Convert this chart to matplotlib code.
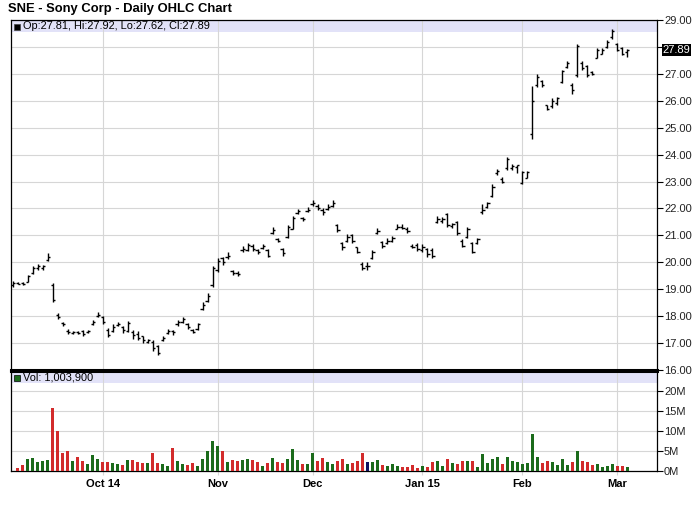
import numpy as np
import pandas as pd
import matplotlib
matplotlib.use('Agg')
import matplotlib.pyplot as plt
from matplotlib.patches import Rectangle
from matplotlib.transforms import blended_transform_factory

plt.rcParams['font.family'] = ['Liberation Sans', 'DejaVu Sans']

title = 'SNE - Sony Corp - Daily OHLC Chart'
holidays = ['2014-11-27', '2014-12-25', '2015-01-01', '2015-01-19', '2015-02-16']
dates = pd.bdate_range('2014-09-05', '2015-03-04')
dates = dates[~dates.isin(pd.to_datetime(holidays))]

# daily prices, Sep 5 2014 .. Mar 4 2015
op = [19.15, 19.24, 19.22, 19.27, 19.60, 19.80, 19.78, 20.10, 19.15, 18.05,
      17.76, 17.45, 17.38, 17.40, 17.45, 17.40, 17.70, 18.00, 17.95, 17.50,
      17.45, 17.68, 17.60, 17.45, 17.40, 17.35, 17.25, 17.05, 17.05, 16.90,
      17.12, 17.38, 17.45, 17.70, 17.80, 17.70, 17.50, 17.52, 18.25, 18.55,
      19.15, 19.70, 20.15, 20.20, 19.68, 19.62, 20.45, 20.45, 20.60, 20.45,
      20.52, 20.45, 21.10, 20.85, 20.50, 20.95, 21.25, 21.82, 21.65, 21.90,
      22.15, 22.10, 21.95, 21.98, 22.10, 21.40, 20.70, 20.80, 21.00, 20.55,
      19.95, 19.85, 20.15, 21.10, 20.75, 20.72, 20.80, 21.25, 21.30, 21.25,
      20.60, 20.65, 20.45, 20.48, 20.45, 21.50, 21.55, 21.80, 21.35, 21.50,
      20.80, 20.95, 20.70, 20.70, 21.85, 22.05, 22.45, 23.30, 23.10, 23.50,
      23.50, 23.55, 22.95, 23.15, 24.75, 26.60, 26.75, 25.85, 25.80, 25.90,
      26.70, 27.25, 26.60, 26.95, 27.40, 27.30, 27.05, 27.60, 27.75, 28.00,
      28.35, 28.10, 27.95, 27.81]
hi = [19.30, 19.26, 19.26, 19.53, 19.86, 19.93, 19.90, 20.33, 19.22, 18.11,
      17.80, 17.52, 17.43, 17.43, 17.49, 17.49, 17.86, 18.14, 17.99, 17.56,
      17.70, 17.80, 17.65, 17.81, 17.47, 17.43, 17.27, 17.16, 17.12, 16.94,
      17.28, 17.53, 17.49, 17.86, 17.95, 17.74, 17.53, 17.74, 18.52, 18.85,
      19.88, 20.17, 20.20, 20.37, 19.72, 19.68, 20.60, 20.70, 20.67, 20.50,
      20.67, 20.49, 21.30, 20.91, 20.54, 21.38, 21.72, 21.98, 21.69, 22.06,
      22.31, 22.15, 22.02, 22.15, 22.31, 21.44, 20.74, 21.05, 21.05, 20.58,
      20.00, 20.00, 20.46, 21.28, 20.80, 20.91, 20.98, 21.41, 21.41, 21.32,
      20.67, 20.73, 20.69, 20.52, 20.52, 21.72, 21.68, 21.84, 21.47, 21.53,
      20.85, 21.31, 20.77, 20.91, 22.15, 22.25, 22.89, 23.48, 23.16, 23.90,
      23.64, 23.62, 23.40, 23.40, 26.56, 27.01, 26.77, 25.86, 26.09, 26.15,
      27.14, 27.47, 26.67, 28.12, 27.47, 27.32, 27.10, 27.96, 27.96, 28.25,
      28.68, 28.16, 28.00, 27.92]
lo = [19.10, 19.18, 19.17, 19.25, 19.57, 19.72, 19.70, 20.05, 18.52, 17.90,
      17.64, 17.32, 17.33, 17.34, 17.25, 17.37, 17.68, 17.96, 17.70, 17.21,
      17.41, 17.62, 17.37, 17.40, 17.15, 17.12, 17.00, 17.00, 16.69, 16.57,
      17.09, 17.33, 17.31, 17.65, 17.74, 17.53, 17.37, 17.49, 18.21, 18.52,
      19.10, 19.63, 19.90, 20.12, 19.53, 19.50, 20.40, 20.42, 20.42, 20.32,
      20.49, 20.19, 21.06, 20.74, 20.25, 20.89, 21.22, 21.78, 21.53, 21.85,
      22.10, 21.94, 21.75, 21.94, 22.06, 21.11, 20.44, 20.77, 20.70, 20.33,
      19.72, 19.72, 20.12, 21.04, 20.54, 20.69, 20.77, 21.22, 21.22, 21.10,
      20.54, 20.42, 20.40, 20.20, 20.17, 21.47, 21.47, 21.31, 21.28, 21.01,
      20.57, 20.91, 20.36, 20.67, 21.80, 22.00, 22.42, 23.26, 22.95, 23.44,
      23.43, 23.31, 22.91, 23.12, 24.58, 26.52, 26.52, 25.65, 25.74, 25.86,
      26.65, 27.20, 26.27, 26.89, 27.14, 26.89, 26.95, 27.57, 27.72, 27.96,
      28.28, 27.84, 27.69, 27.62]
cl = [19.22, 19.20, 19.19, 19.50, 19.80, 19.85, 19.86, 20.20, 18.60, 17.98,
      17.70, 17.40, 17.41, 17.38, 17.33, 17.45, 17.80, 18.05, 17.80, 17.30,
      17.60, 17.72, 17.50, 17.75, 17.30, 17.20, 17.10, 17.12, 16.80, 16.65,
      17.20, 17.45, 17.40, 17.80, 17.88, 17.60, 17.42, 17.70, 18.40, 18.75,
      19.80, 20.05, 20.00, 20.25, 19.60, 19.58, 20.50, 20.65, 20.50, 20.40,
      20.60, 20.25, 21.20, 20.80, 20.35, 21.30, 21.65, 21.90, 21.60, 21.95,
      22.20, 22.00, 21.85, 22.05, 22.20, 21.20, 20.55, 20.95, 20.80, 20.40,
      19.80, 19.85, 20.40, 21.15, 20.60, 20.80, 20.90, 21.30, 21.28, 21.15,
      20.58, 20.50, 20.55, 20.30, 20.25, 21.60, 21.62, 21.40, 21.42, 21.10,
      20.62, 21.25, 20.40, 20.85, 21.95, 22.20, 22.80, 23.40, 23.00, 23.85,
      23.58, 23.60, 23.35, 23.35, 26.00, 26.90, 26.60, 25.70, 26.00, 26.10,
      27.10, 27.40, 26.40, 28.05, 27.20, 26.95, 27.00, 27.90, 27.90, 28.20,
      28.60, 27.90, 27.75, 27.89]
# volume, millions of shares
vol = [0.0, 0.7, 1.5, 2.9, 3.2, 2.25, 2.5, 2.75, 15.8, 10.0,
       4.5, 5.0, 2.5, 3.5, 2.6, 1.75, 4.0, 3.0, 2.25, 2.25,
       2.0, 1.75, 1.5, 2.75, 2.75, 2.25, 2.0, 2.0, 4.5, 2.0,
       1.75, 1.25, 5.75, 2.5, 1.75, 1.5, 2.0, 1.25, 3.0, 5.0,
       7.5, 6.25, 5.0, 2.25, 2.75, 2.6, 2.75, 3.0, 2.75, 2.25,
       1.25, 2.0, 3.25, 2.25, 2.0, 3.0, 5.5, 2.75, 1.75, 1.75,
       4.5, 2.5, 3.25, 2.25, 1.75, 2.5, 3.0, 1.75, 2.0, 2.5,
       4.5, 2.25, 2.25, 2.75, 1.5, 1.25, 1.75, 1.25, 1.0, 1.0,
       1.5, 0.75, 1.25, 1.0, 2.25, 2.5, 1.25, 3.0, 2.0, 1.75,
       2.5, 2.5, 2.5, 1.0, 4.25, 2.0, 3.0, 3.5, 1.75, 3.5,
       2.5, 2.25, 1.75, 2.0, 9.25, 3.5, 2.0, 2.5, 2.25, 1.5,
       3.0, 1.5, 2.25, 5.0, 2.5, 2.25, 1.5, 1.75, 1.0, 1.25,
       1.75, 1.25, 1.25, 1.0]
last_vol = '1,003,900'

x = np.arange(len(dates))
op = np.array(op); cl = np.array(cl)
colors = np.where(cl > op, '#1b6b1b', np.where(cl < op, '#d22b2b', '#101060'))

# first trading day of each month -> gridlines / labels
months = dates.month
tick_idx = [i for i in range(1, len(dates)) if months[i] != months[i - 1]]
tick_lab = []
for i in tick_idx:
    d = dates[i]
    tick_lab.append(d.strftime('%b %y') if d.month in (10, 1) else d.strftime('%b'))

W, H = 700, 512
fig = plt.figure(figsize=(W / 100, H / 100), dpi=100)
ax = fig.add_axes([11 / W, 142 / H, 646 / W, 350 / H])
axv = fig.add_axes([11 / W, 41 / H, 646 / W, 100 / H])
grid_c = '#d6d6d6'
band_c = '#e2e2f8'

# price panel
ax.axhspan(28.55, 29, color=band_c, lw=0, zorder=0)
ax.vlines(x, lo, hi, color='black', lw=1.0, zorder=3)
ax.hlines(op, x - 0.45, x, color='black', lw=1.0, zorder=3)
ax.hlines(cl, x, x + 0.45, color='black', lw=1.0, zorder=3)
ax.set_xlim(-0.4, 129)
ax.set_ylim(16, 29)
ax.set_yticks(range(16, 30))
ax.set_yticklabels(['' if v == 28 else '%.2f' % v for v in range(16, 30)])
ax.yaxis.tick_right()
ax.set_xticks(tick_idx)
ax.tick_params(axis='x', length=0, labelbottom=False)
ax.tick_params(axis='y', length=4, width=0.8, pad=1, labelsize=8, labelcolor='#222222')
ax.grid(True, color=grid_c, lw=0.8, zorder=1)
ax.set_axisbelow(True)
for s in ['left', 'right', 'top']:
    ax.spines[s].set_linewidth(0.9)
ax.spines['bottom'].set_linewidth(2.2)

tr = blended_transform_factory(ax.transAxes, ax.transData)
ax.text(1.009, cl[-1], '%.2f' % cl[-1], transform=tr, color='white', fontsize=8,
        ha='left', va='center', zorder=10, clip_on=False,
        bbox=dict(facecolor='black', edgecolor='none', pad=0.6))
ax.add_patch(Rectangle((3 / 646, 1 - 9.5 / 350), 6 / 646, 6 / 350, transform=ax.transAxes,
                       facecolor='black', edgecolor='#444444', lw=0.5, zorder=5))
ax.text(0.019, 1 - 6.3 / 350, 'Op:%.2f, Hi:%.2f, Lo:%.2f, Cl:%.2f' % (op[-1], hi[-1], lo[-1], cl[-1]),
        transform=ax.transAxes, fontsize=7.9, color='black', ha='left', va='center')

# volume panel
axv.axhspan(22, 25, color=band_c, lw=0, zorder=0)
axv.bar(x, vol, width=0.6, color=colors, zorder=3)
axv.set_xlim(-0.4, 129)
axv.set_ylim(0, 25)
axv.set_yticks([0, 5, 10, 15, 20])
axv.set_yticklabels(['%dM' % v for v in [0, 5, 10, 15, 20]])
axv.yaxis.tick_right()
axv.set_xticks(tick_idx)
axv.set_xticklabels(tick_lab, fontweight='bold', fontsize=8)
axv.tick_params(axis='x', length=3, color=grid_c, pad=3)
axv.tick_params(axis='y', length=4, width=0.8, pad=1, labelsize=8, labelcolor='#222222')
axv.grid(True, color=grid_c, lw=0.8, zorder=1)
axv.set_axisbelow(True)
for s in ['left', 'right', 'bottom']:
    axv.spines[s].set_linewidth(0.9)
axv.spines['top'].set_linewidth(2.2)
axv.add_patch(Rectangle((3 / 646, 1 - 9.5 / 100), 6 / 646, 6 / 100, transform=axv.transAxes,
                        facecolor='#1b6b1b', edgecolor='black', lw=0.5, zorder=5))
axv.text(0.019, 1 - 6.3 / 100, 'Vol: ' + last_vol, transform=axv.transAxes, fontsize=7.9,
         color='black', ha='left', va='center')

fig.text(8 / W, 1 - 9 / H, title, fontsize=9.4, fontweight='bold', ha='left', va='center')

fig.savefig('out.png', dpi=100)
